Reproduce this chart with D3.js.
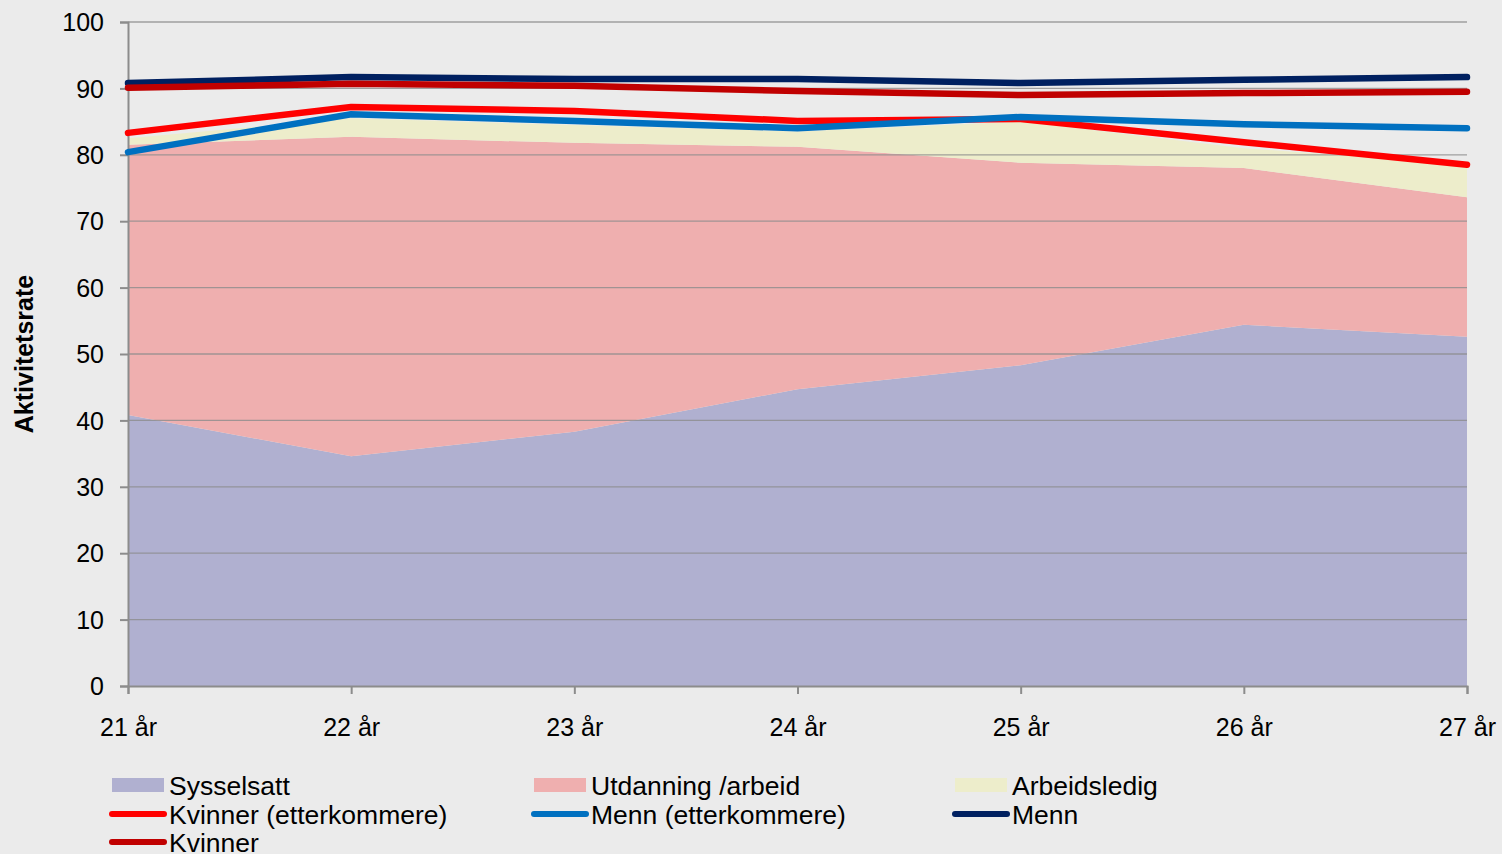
<!DOCTYPE html>
<html>
<head>
<meta charset="utf-8">
<script src="https://cdn.jsdelivr.net/npm/d3@7"></script>
<style>
  body { margin: 0; background: #ebebeb; }
  svg { display: block; font-family: "Liberation Sans", Arial, sans-serif; }
</style>
</head>
<body>
<div id="chart"></div>
<script>
// data
var ages = ["21 år", "22 år", "23 år", "24 år", "25 år", "26 år", "27 år"];
var sysselsatt = [40.8, 34.6, 38.3, 44.7, 48.3, 54.4, 52.6];
var utdanning = [40.7, 48.1, 43.5, 36.5, 30.5, 23.6, 21.0];
var arbeidsledig = [1.0, 2.8, 2.7, 2.3, 6.2, 3.0, 4.9];
var kvinnerEtt = [83.3, 87.2, 86.6, 85.1, 85.4, 81.9, 78.5];
var mennEtt = [80.4, 86.1, 85.1, 84.0, 85.7, 84.6, 84.0];
var menn = [90.8, 91.7, 91.4, 91.4, 90.8, 91.3, 91.7];
var kvinner = [90.1, 90.7, 90.4, 89.6, 89.0, 89.3, 89.5];
var yTicks = [0, 10, 20, 30, 40, 50, 60, 70, 80, 90, 100];

var width = 1502, height = 854;
var margin = {top: 22, right: 35, bottom: 168, left: 128};

var svg = d3.select("#chart").append("svg")
  .attr("width", width)
  .attr("height", height);

var x = d3.scalePoint().domain(ages).range([margin.left, width - margin.right]);
var y = d3.scaleLinear().domain([0, 100]).range([height - margin.bottom, margin.top]);

// stacked areas
var areaKeys = ["Sysselsatt", "Utdanning /arbeid", "Arbeidsledig"];
var areaColors = ["#b0b0d0", "#efafaf", "#ededcb"];
var table = ages.map(function(a, i) {
  return {age: a, "Sysselsatt": sysselsatt[i], "Utdanning /arbeid": utdanning[i], "Arbeidsledig": arbeidsledig[i]};
});
var stack = d3.stack().keys(areaKeys)(table);

var area = d3.area()
  .x(function(d) { return x(d.data.age); })
  .y0(function(d) { return y(d[0]); })
  .y1(function(d) { return y(d[1]); });

svg.selectAll(".area")
  .data(stack)
  .enter()
  .append("path")
    .attr("class", "area")
    .attr("d", area)
    .attr("fill", function(d, i) { return areaColors[i]; });

// gridlines
svg.selectAll(".grid")
  .data(yTicks.slice(1))
  .enter()
  .append("line")
    .attr("x1", margin.left)
    .attr("x2", width - margin.right)
    .attr("y1", function(d) { return y(d); })
    .attr("y2", function(d) { return y(d); })
    .attr("stroke", "#8c8c8c")
    .attr("stroke-opacity", 0.8)
    .attr("stroke-width", 1.3);

// axes
var yAxis = svg.append("g")
  .attr("transform", "translate(" + margin.left + ",0)")
  .call(d3.axisLeft(y).tickValues(yTicks).tickSize(8).tickPadding(16));
var xAxis = svg.append("g")
  .attr("transform", "translate(0," + y(0) + ")")
  .call(d3.axisBottom(x).tickSize(8).tickPadding(24));

[yAxis, xAxis].forEach(function(g) {
  g.select(".domain").attr("stroke", "#8c8c8c").attr("stroke-width", 2);
  g.selectAll(".tick line").attr("stroke", "#8c8c8c").attr("stroke-width", 2);
  g.selectAll(".tick text")
    .attr("fill", "#000")
    .style("font-size", "25px")
    .style("font-family", "Liberation Sans, Arial, sans-serif");
});
yAxis.selectAll(".tick text").attr("dy", "0.35em");

svg.append("text")
  .attr("transform", "translate(33," + ((margin.top + y(0)) / 2) + ") rotate(-90)")
  .attr("text-anchor", "middle")
  .style("font-size", "25px")
  .style("font-weight", "bold")
  .text("Aktivitetsrate");

// lines
var lineSeries = [
  {name: "Kvinner (etterkommere)", values: kvinnerEtt, color: "#ff0000"},
  {name: "Menn (etterkommere)", values: mennEtt, color: "#0070c0"},
  {name: "Menn", values: menn, color: "#002060"},
  {name: "Kvinner", values: kvinner, color: "#c00000"}
];
var line = d3.line()
  .x(function(d, i) { return x(ages[i]); })
  .y(function(d) { return y(d); });

svg.selectAll(".series")
  .data(lineSeries)
  .enter()
  .append("path")
    .attr("class", "series")
    .attr("d", function(d) { return line(d.values); })
    .attr("fill", "none")
    .attr("stroke", function(d) { return d.color; })
    .attr("stroke-width", 6.5)
    .attr("stroke-linecap", "round")
    .attr("stroke-linejoin", "round");

// legend
var legendItems = [
  {name: "Sysselsatt", color: areaColors[0], type: "area"},
  {name: "Utdanning /arbeid", color: areaColors[1], type: "area"},
  {name: "Arbeidsledig", color: areaColors[2], type: "area"}
].concat(lineSeries.map(function(s) { return {name: s.name, color: s.color, type: "line"}; }));

var colX = [112, 534, 955];
var rowY = [785, 814, 842];

var legend = svg.selectAll(".legend")
  .data(legendItems)
  .enter()
  .append("g")
    .attr("class", "legend")
    .attr("transform", function(d, i) {
      return "translate(" + colX[i % 3] + "," + rowY[Math.floor(i / 3)] + ")";
    });

legend.filter(function(d) { return d.type === "area"; })
  .append("rect")
    .attr("x", 0).attr("y", -7)
    .attr("width", 52).attr("height", 14)
    .attr("fill", function(d) { return d.color; });

legend.filter(function(d) { return d.type === "line"; })
  .append("line")
    .attr("x1", 0).attr("x2", 52)
    .attr("y1", 0).attr("y2", 0)
    .attr("stroke", function(d) { return d.color; })
    .attr("stroke-width", 6)
    .attr("stroke-linecap", "round");

legend.append("text")
  .attr("x", 57)
  .attr("y", 0)
  .attr("dy", "0.36em")
  .style("font-size", "26.5px")
  .text(function(d) { return d.name; });
</script>
</body>
</html>
